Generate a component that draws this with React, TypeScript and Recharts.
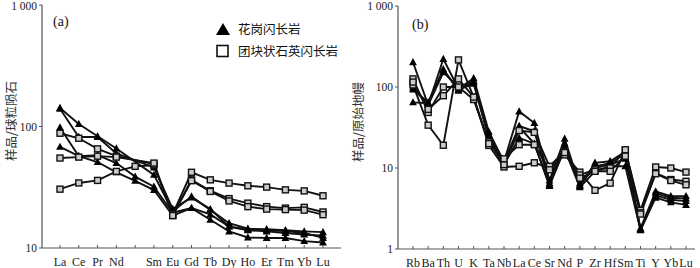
import { LineChart, Line, XAxis, YAxis } from 'recharts';

// (a) 稀土元素球粒陨石标准化
const reeElements = ['La', 'Ce', 'Pr', 'Nd', 'Pm', 'Sm', 'Eu', 'Gd', 'Tb', 'Dy', 'Ho', 'Er', 'Tm', 'Yb', 'Lu'];
// 花岗闪长岩
const reeT1 = [142, 105, 83, 66, null, 40, 20, 26.6, 20.6, 16.0, 14.4, 14.3, 14.0, 13.7, 13.5];
const reeT2 = [140, 82, 82, 60, null, 46, 21, 26, 20.9, 15.0, 14.0, 13.7, 13.3, 12.9, 12.6];
const reeT3 = [98, 57, 58, 50, 38.7, 32, 19.5, 21.3, 18.9, 15.0, 14.2, 14.0, 13.8, 13.3, 12.1];
const reeT4 = [68, 57, 51, 42, 35.7, 30, 18.5, 21.3, 17.1, 13.7, 12.2, 12.1, 12.1, 11.4, 11.1];
// 团块状石英闪长岩
const reeS1 = [30.5, 34.3, 36, 42.7, 47, 48, 19, 42, 36.4, 34.2, 32.5, 31.7, 30.1, 29.5, 26.9];
const reeS2 = [88, 80, 65.5, 57, null, 49, 18.5, 36.4, 29.6, 25.5, 23.4, 21.9, 21.3, 21.6, 19.8];
const reeS3 = [55, 56, 57, 56, null, 50, 18.5, 35.8, 29.2, 24.4, 21.9, 20.9, 20.7, 20.5, 18.8];

// (b) 微量元素原始地幔标准化
const traceElements = ['Rb', 'Ba', 'Th', 'U', 'K', 'Ta', 'Nb', 'La', 'Ce', 'Sr', 'Nd', 'P', 'Zr', 'Hf', 'Sm', 'Ti', 'Y', 'Yb', 'Lu'];
const trT1 = [202, 60, 222, 95, 128, 28, 12, 50, 36, 7, 23, 6, 11.6, 12.1, 16, 1.8, 5.15, 4.5, 4.5];
const trT2 = [93, 65, 166, 90, 120, 26, 11, 33, 28.4, 6.5, 20, 6.2, 10.5, 11.5, 15, 1.75, 4.9, 4.3, 4.2];
const trT3 = [98, 60, 152, 100, 115, 24, 12, 32, 20, 6, 18, 6.5, 10, 11, 13, 1.73, 4.6, 4.06, 3.9];
const trT4 = [64.6, 63, 160, 92, 110, 23, 11, 23.5, 20, 6.2, 17, 5.8, 9.1, 10.5, 10.5, 1.7, 4.3, 3.77, 3.5];
const trS1 = [106, 33.8, 19.1, 216, 75, 19, 10.3, 10.5, 11.6, 10, 14.5, 8.9, 5.3, 6.5, 16.5, 3.0, 10.3, 10, 8.9];
const trS2 = [126, 48.5, 100, 100, 70, 21, 11, 29, 27.5, 10.5, 16, 8.2, 9.5, 10, 16.8, 2.8, 8.7, 7.2, 6.85];
const trS3 = [115, 53, 78, 126, 75, 20, 13, 19.4, 19.4, 9.5, 15.5, 7.5, 9.1, 9.1, 14, 2.7, 8.5, 7.0, 6.2];

const reeSeries = [
  { key: 't1', values: reeT1, shape: 'tri' },
  { key: 't2', values: reeT2, shape: 'tri' },
  { key: 't3', values: reeT3, shape: 'tri' },
  { key: 't4', values: reeT4, shape: 'tri' },
  { key: 's1', values: reeS1, shape: 'sq' },
  { key: 's2', values: reeS2, shape: 'sq' },
  { key: 's3', values: reeS3, shape: 'sq' },
];
const traceSeries = [
  { key: 't1', values: trT1, shape: 'tri' },
  { key: 't2', values: trT2, shape: 'tri' },
  { key: 't3', values: trT3, shape: 'tri' },
  { key: 't4', values: trT4, shape: 'tri' },
  { key: 's1', values: trS1, shape: 'sq' },
  { key: 's2', values: trS2, shape: 'sq' },
  { key: 's3', values: trS3, shape: 'sq' },
];

const buildRows = (cats: string[], series: { key: string; values: (number | null)[] }[]) =>
  cats.map((el, i) => {
    const row: Record<string, string | number | null> = { el };
    series.forEach((s) => (row[s.key] = s.values[i]));
    return row;
  });

const reeData = buildRows(reeElements, reeSeries);
const traceData = buildRows(traceElements, traceSeries);

const SERIF = '"Liberation Serif", "Times New Roman", serif';
const CJK = '"Noto Sans CJK SC", sans-serif';
const AXIS = '#555';

const TriDot = (props: any) => {
  const { cx, cy } = props;
  if (cx == null || cy == null || isNaN(cy)) return <g />;
  return <path d={`M${cx},${cy - 4.2} L${cx + 3.9},${cy + 3} L${cx - 3.9},${cy + 3} Z`} fill="#000" />;
};

const SqDot = (props: any) => {
  const { cx, cy } = props;
  if (cx == null || cy == null || isNaN(cy)) return <g />;
  return <rect x={cx - 3} y={cy - 3} width={6} height={6} fill="#ccc" stroke="#111" strokeWidth={1.4} />;
};

const CatTick = (props: any) => {
  const { x, y, payload } = props;
  const label = payload.value === 'Pm' ? '' : payload.value;
  return (
    <g>
      <line x1={x} y1={y} x2={x} y2={y - 3} stroke={AXIS} strokeWidth={1} />
      <text x={x} y={y + 17.5} textAnchor="middle" fontSize={12} fontFamily={SERIF} fill="#1a1a1a">
        {label}
      </text>
    </g>
  );
};

const fmtLog = (v: number) => (v === 1000 ? '1 000' : String(v));

function Panel({
  data,
  series,
  domain,
  ticks,
  margin,
  yWidth,
  xHeight,
  pad,
}: {
  data: any[];
  series: { key: string; shape: string }[];
  domain: [number, number];
  ticks: number[];
  margin: { top: number; right: number; bottom: number; left: number };
  yWidth: number;
  xHeight: number;
  pad: { left: number; right: number };
}) {
  return (
    <LineChart width={350} height={268} data={data} margin={margin}>
      <XAxis
        dataKey="el"
        type="category"
        interval={0}
        padding={pad}
        height={xHeight}
        tickSize={0}
        tickMargin={0}
        tickLine={false}
        tick={<CatTick />}
        axisLine={{ stroke: AXIS, strokeWidth: 1.2 }}
      />
      <XAxis
        xAxisId="top"
        dataKey="el"
        orientation="top"
        height={0}
        tick={false}
        tickLine={false}
        axisLine={{ stroke: AXIS, strokeWidth: 1.2 }}
      />
      <YAxis
        type="number"
        scale="log"
        domain={domain}
        ticks={ticks}
        allowDataOverflow
        width={yWidth}
        tickSize={3}
        tickMargin={2}
        tickFormatter={fmtLog}
        tick={{ fontSize: 11.5, fontFamily: SERIF, fill: '#1a1a1a' }}
        tickLine={{ stroke: AXIS }}
        axisLine={{ stroke: AXIS, strokeWidth: 1.2 }}
      />
      <YAxis
        yAxisId="right"
        orientation="right"
        type="number"
        domain={[0, 1]}
        width={0}
        tick={false}
        tickLine={false}
        axisLine={{ stroke: AXIS, strokeWidth: 1.2 }}
      />
      {series.map((s) => (
        <Line
          key={s.key}
          dataKey={s.key}
          type="linear"
          stroke="#111"
          strokeWidth={1.9}
          connectNulls
          dot={s.shape === 'tri' ? <TriDot /> : <SqDot />}
          activeDot={false}
          isAnimationActive={false}
        />
      ))}
    </LineChart>
  );
}

export default function App() {
  return (
    <div style={{ position: 'absolute', left: 0, top: 0, width: 700, height: 268, background: '#fff', overflow: 'hidden' }}>
      <div style={{ position: 'absolute', left: 0, top: 0 }}>
        <Panel
          data={reeData}
          series={reeSeries}
          domain={[10, 1000]}
          ticks={[10, 100, 1000]}
          margin={{ top: 5, right: 9, bottom: 0, left: 2 }}
          yWidth={40}
          xHeight={20}
          pad={{ left: 18, right: 18 }}
        />
      </div>
      <div style={{ position: 'absolute', left: 350, top: 0 }}>
        <Panel
          data={traceData}
          series={traceSeries}
          domain={[1, 1000]}
          ticks={[1, 10, 100, 1000]}
          margin={{ top: 6, right: 5, bottom: 0, left: 2 }}
          yWidth={46}
          xHeight={19}
          pad={{ left: 15, right: 9 }}
        />
      </div>

      {/* 纵轴标题 */}
      <div
        style={{
          position: 'absolute', left: 10, top: 121, transform: 'translate(-50%, -50%) rotate(-90deg)',
          fontFamily: CJK, fontSize: 12.5, color: '#333', whiteSpace: 'nowrap',
        }}
      >
        样品/球粒陨石
      </div>
      <div
        style={{
          position: 'absolute', left: 357, top: 122, transform: 'translate(-50%, -50%) rotate(-90deg)',
          fontFamily: CJK, fontSize: 12.5, color: '#333', whiteSpace: 'nowrap',
        }}
      >
        样品/原始地幔
      </div>

      {/* 分图标记 */}
      <div style={{ position: 'absolute', left: 53, top: 14, fontFamily: SERIF, fontSize: 14, color: '#111' }}>(a)</div>
      <div style={{ position: 'absolute', left: 412, top: 17, fontFamily: SERIF, fontSize: 14, color: '#111' }}>(b)</div>

      {/* 图例 */}
      <div style={{ position: 'absolute', left: 215, top: 18, fontFamily: CJK, fontSize: 12.5, color: '#111', lineHeight: '22px' }}>
        <div style={{ display: 'flex', alignItems: 'center' }}>
          <svg width={16} height={14} style={{ marginRight: 7 }}>
            <path d="M8,1 L15,13 L1,13 Z" fill="#000" />
          </svg>
          花岗闪长岩
        </div>
        <div style={{ display: 'flex', alignItems: 'center' }}>
          <svg width={16} height={14} style={{ marginRight: 7 }}>
            <rect x={2} y={1.5} width={11} height={11} fill="#fff" stroke="#111" strokeWidth={1.6} />
          </svg>
          团块状石英闪长岩
        </div>
      </div>
    </div>
  );
}
